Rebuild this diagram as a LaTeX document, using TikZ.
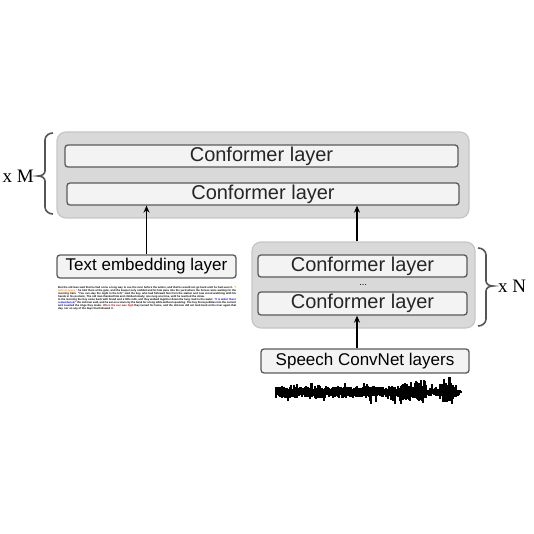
\documentclass[tikz,border=0pt]{standalone}
\usepackage{fontspec}
\setmainfont{Liberation Serif}
\setsansfont{Liberation Sans}
\usetikzlibrary{arrows.meta,positioning,calc}
\definecolor{stackgrey}{HTML}{D9D9D9}
\definecolor{stackedge}{HTML}{C6C6C6}
\definecolor{layerfill}{HTML}{F3F3F3}
\definecolor{layeredge}{HTML}{5A5A5A}
\definecolor{bracegrey}{HTML}{555555}
\tikzset{
    line/.style    = {-{Stealth[length=7pt,width=6pt]}, line width=1.2pt, draw=black},
    stack/.style   = {draw=stackedge, line width=1.2pt, fill=stackgrey,
            rounded corners=9pt, inner sep=0pt},
    layer/.style   = {draw=layeredge, line width=1.3pt, fill=layerfill,
            rounded corners=3pt, inner sep=0pt, text=black!85,
            font=\sffamily\fontsize{20}{20}\selectfont},
    entry/.style   = {layer, text=black, font=\sffamily\fontsize{17}{17}\selectfont},
    bracket/.style = {draw=bracegrey, line width=1.6pt},
    count/.style   = {font=\rmfamily\fontsize{19}{19}\selectfont, inner sep=0pt},
}

\begin{document}
\begin{tikzpicture}[x=1pt, y=-1pt]
            \useasboundingbox (0,0) rectangle (534,534);
            \begin{scope}
                % Stacks
                \node[stack, minimum width=412pt, minimum height=86pt] (topstack) at (263,175) {};
                \node[stack, minimum width=223pt, minimum height=86pt] (speechstack) at (363.5,285) {};
                % Nodes
                \node[layer, minimum width=393pt, minimum height=22pt] (c1) at (261.5,156) {Conformer layer};
                \node[layer, minimum width=392pt, minimum height=22pt] (c2) at (263,194) {Conformer layer};
                \node[layer, minimum width=209pt, minimum height=22pt] (r1) at (362.5,266) {Conformer layer};
                \node[layer, minimum width=209pt, minimum height=23pt] (r2) at (362.5,303.5) {Conformer layer};
                \node[font=\sffamily\fontsize{9}{9}\selectfont, inner sep=0pt] (dots) at (363,285) {...};
                \node[entry, minimum width=179pt, minimum height=23pt] (textemb) at (146.5,266.5) {Text embedding layer};
                \node[entry, minimum width=208pt, minimum height=24pt] (convnet) at (365,361) {Speech ConvNet layers};
                \node[anchor=north west, text width=178pt, align=justify, inner sep=0pt,
                      font=\sffamily\bfseries\fontsize{2.7}{3.1}\selectfont] (transcript) at (58,286)
                    {But the old man said that he had come a long way to see the river before the winter, and that he would not go back until he had seen it. \textcolor{orange}{``I will not leave,''} he told them at the gate, and the keeper only nodded and let him pass into the yard where the horses were waiting for the morning train. ``You can stay the night in the loft,'' said the boy, who had followed him from the station and now stood watching with his hands in his pockets. The old man thanked him and climbed slowly, one rung at a time, until he reached the straw.\par
                     In the morning the boy came back with bread and a little milk, and they walked together down the long road to the water. \textcolor{blue}{``It is wider than I remembered,''} the old man said, and he sat on a stone by the bank for a long while without speaking. The boy threw pebbles into the current and counted the rings they made. \textcolor{red!70!black}{When the sun was high} they turned for home, and the old man did not look back at the river again that day, nor on any of the days that followed it.};
                % Repeat brackets
                \draw[bracket] (53,133) to[out=180,in=90] (45,140) -- (45,171)
                    to[out=-90,in=0] (38,176) coordinate (mtip) to[out=0,in=90] (45,181) -- (45,207)
                    to[out=-90,in=180] (53,214);
                \draw[bracket] (478,248) to[out=0,in=90] (486,255) -- (486,281)
                    to[out=-90,in=180] (493,286) coordinate (ntip) to[out=180,in=90] (486,291) -- (486,319)
                    to[out=-90,in=0] (478,326);
                \node[count, anchor=east] (xm) at ([xshift=-4pt]mtip) {x M};
                \node[count, anchor=west] (xn) at ([xshift=5pt]ntip) {x N};
                % Arrows
                \coordinate (tap) at (357,0);
                \draw[line] (textemb.north) -- (textemb.north |- c2.south);
                \draw[line] (tap |- speechstack.north) -- (tap |- c2.south);
                \draw[line] (tap |- convnet.north) -- (tap |- r2.south);
                % Waveform
                \pgfmathsetseed{17}
                \draw[line width=2pt] (276,392) -- (462,392);
                \foreach \i in {276,...,461} {
                    \pgfmathsetmacro\env{\i<400 ? 4 : (\i<426 ? 6.5 : (\i<440 ? 3 : (\i<450 ? 7 : 7*(462-\i)/12)))}
                    \pgfmathsetmacro\up{\env*(0.5+rnd) + (rnd>0.85)*rnd*6}
                    \pgfmathsetmacro\dn{\env*(0.5+rnd) + (rnd>0.88)*rnd*6}
                    \draw[line width=1.3pt] (\i,392-\up) -- (\i,392+\dn);
                }
            \end{scope}
        \end{tikzpicture}
\end{document}
